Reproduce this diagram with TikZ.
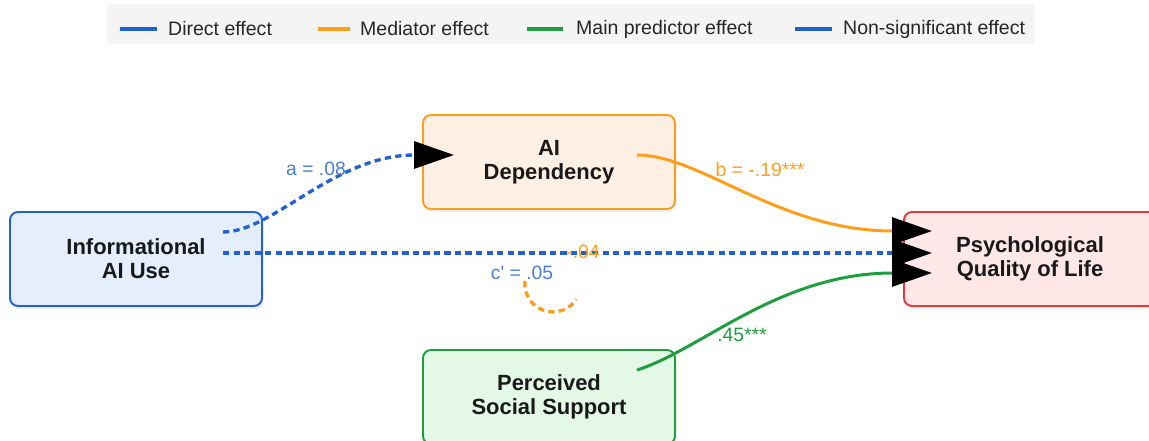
\documentclass[tikz,border=0pt]{standalone}
\usepackage{fontspec}
\setmainfont{Liberation Sans}
\usetikzlibrary{arrows.meta,positioning,calc,shadows}
\definecolor{lineblue}{HTML}{2161D1}
\definecolor{textblue}{HTML}{4A7CD6}
\definecolor{lineorange}{HTML}{FF9E1B}
\definecolor{linegreen}{HTML}{1E9E3E}
\definecolor{linered}{HTML}{E03A3A}
\definecolor{fillblue}{HTML}{E4EEFC}
\definecolor{fillorange}{HTML}{FDEFE4}
\definecolor{fillred}{HTML}{FDE7E7}
\definecolor{fillgreen}{HTML}{E4F8E6}
\definecolor{legendbg}{HTML}{F4F4F4}

\begin{document}
\begin{tikzpicture}[on grid,
                box/.style={rectangle,rounded corners=0.16cm,line width=1.1pt,minimum width=5.04cm,
                  minimum height=1.88cm,align=center,text=black!90,
                  font=\fontsize{12.5}{13.6}\selectfont\bfseries,
                  drop shadow={opacity=0.12,shadow xshift=0.04cm,shadow yshift=-0.06cm}},
                bigtip/.style={-{Triangle[length=0.8cm,width=0.54cm,color=black]}},
                effect/.style={line width=1.7pt},
                nonsig/.style={line width=1.9pt,dash pattern=on 3.6pt off 2.4pt},
                leg line/.style={line width=2.2pt},
                leg text/.style={anchor=west,font=\fontsize{11.1}{13}\selectfont,text=black!85},
                coef/.style={font=\fontsize{11}{13}\selectfont}]
                \useasboundingbox (0,0) rectangle (22.98,8.8);

                \fill[legendbg] (2.14,8.72) rectangle (20.7,7.92);
                \coordinate (l1a) at (2.4,8.22);
                \coordinate (l1b) at (3.14,8.22);
                \coordinate (l2a) at (6.36,8.22);
                \coordinate (l2b) at (7.0,8.22);
                \coordinate (l3a) at (10.54,8.22);
                \coordinate (l3b) at (11.26,8.22);
                \coordinate (l4a) at (15.9,8.22);
                \coordinate (l4b) at (16.64,8.22);
                \draw[leg line,lineblue] (l1a) -- (l1b);
                \draw[leg line,lineorange] (l2a) -- (l2b);
                \draw[leg line,linegreen] (l3a) -- (l3b);
                \draw[leg line,lineblue] (l4a) -- (l4b);
                \node[leg text] (t1) [right=0.1cm of l1b] {Direct effect};
                \node[leg text] (t2) [right=0.08cm of l2b] {Mediator effect};
                \node[leg text] (t3) [right=0.14cm of l3b] {Main predictor effect};
                \node[leg text] (t4) [right=0.1cm of l4b] {Non-significant effect};

                \node[box,draw=lineblue,fill=fillblue] (use) at (2.72,3.62) {Informational\\AI Use};
                \node[box,draw=lineorange,fill=fillorange] (dep) [above right=1.94cm and 8.26cm of use] {AI\\Dependency};
                \node[box,draw=linered,fill=fillred] (qol) [right=17.88cm of use] {Psychological\\Quality of Life};
                \node[box,draw=linegreen,fill=fillgreen] (sup) [below right=2.76cm and 8.26cm of use] {Perceived\\Social Support};

                \coordinate (a0) at ($(use.east)+(-0.8,0.54)$);
                \coordinate (a1) at ($(dep.west)+(0.64,0.14)$);
                \coordinate (c0) at ($(use.east)+(-0.8,0.12)$);
                \coordinate (c1) at ($(qol.west)+(0.58,0.12)$);
                \coordinate (b0) at ($(dep.east)+(-0.78,0.14)$);
                \coordinate (b1) at ($(qol.west)+(0.58,0.56)$);
                \coordinate (g0) at ($(sup.east)+(-0.78,0.54)$);
                \coordinate (g1) at ($(qol.west)+(0.58,-0.28)$);

                \draw[nonsig,lineblue,bigtip] (a0) .. controls +(1.0,0) and +(-2.4,0) .. (a1);
                \draw[nonsig,lineblue,bigtip] (c0) -- (c1);
                \draw[effect,lineorange,bigtip] (b0) .. controls +(1.28,0) and +(-3.06,0) .. (b1);
                \draw[effect,linegreen,bigtip] (g0) .. controls +(1.28,0.4) and +(-3.06,0) .. (g1);

                \coordinate (loop) at (10.5,3.18);
                \draw[nonsig,lineorange] (loop) arc[start angle=174,end angle=327,radius=0.56];

                \node[coef,text=textblue] (la) at (6.32,5.42) {a = .08};
                \node[coef,text=textblue] (lc) at (10.44,3.34) {c\textquotesingle{} = .05};
                \node[coef,text=lineorange] (lind) at (11.66,3.76) {-.04};
                \node[coef,text=lineorange] (lb) at (15.2,5.4) {b = -.19***};
                \node[coef,text=linegreen] (lg) at (14.84,2.1) {.45***};
\end{tikzpicture}
\end{document}
